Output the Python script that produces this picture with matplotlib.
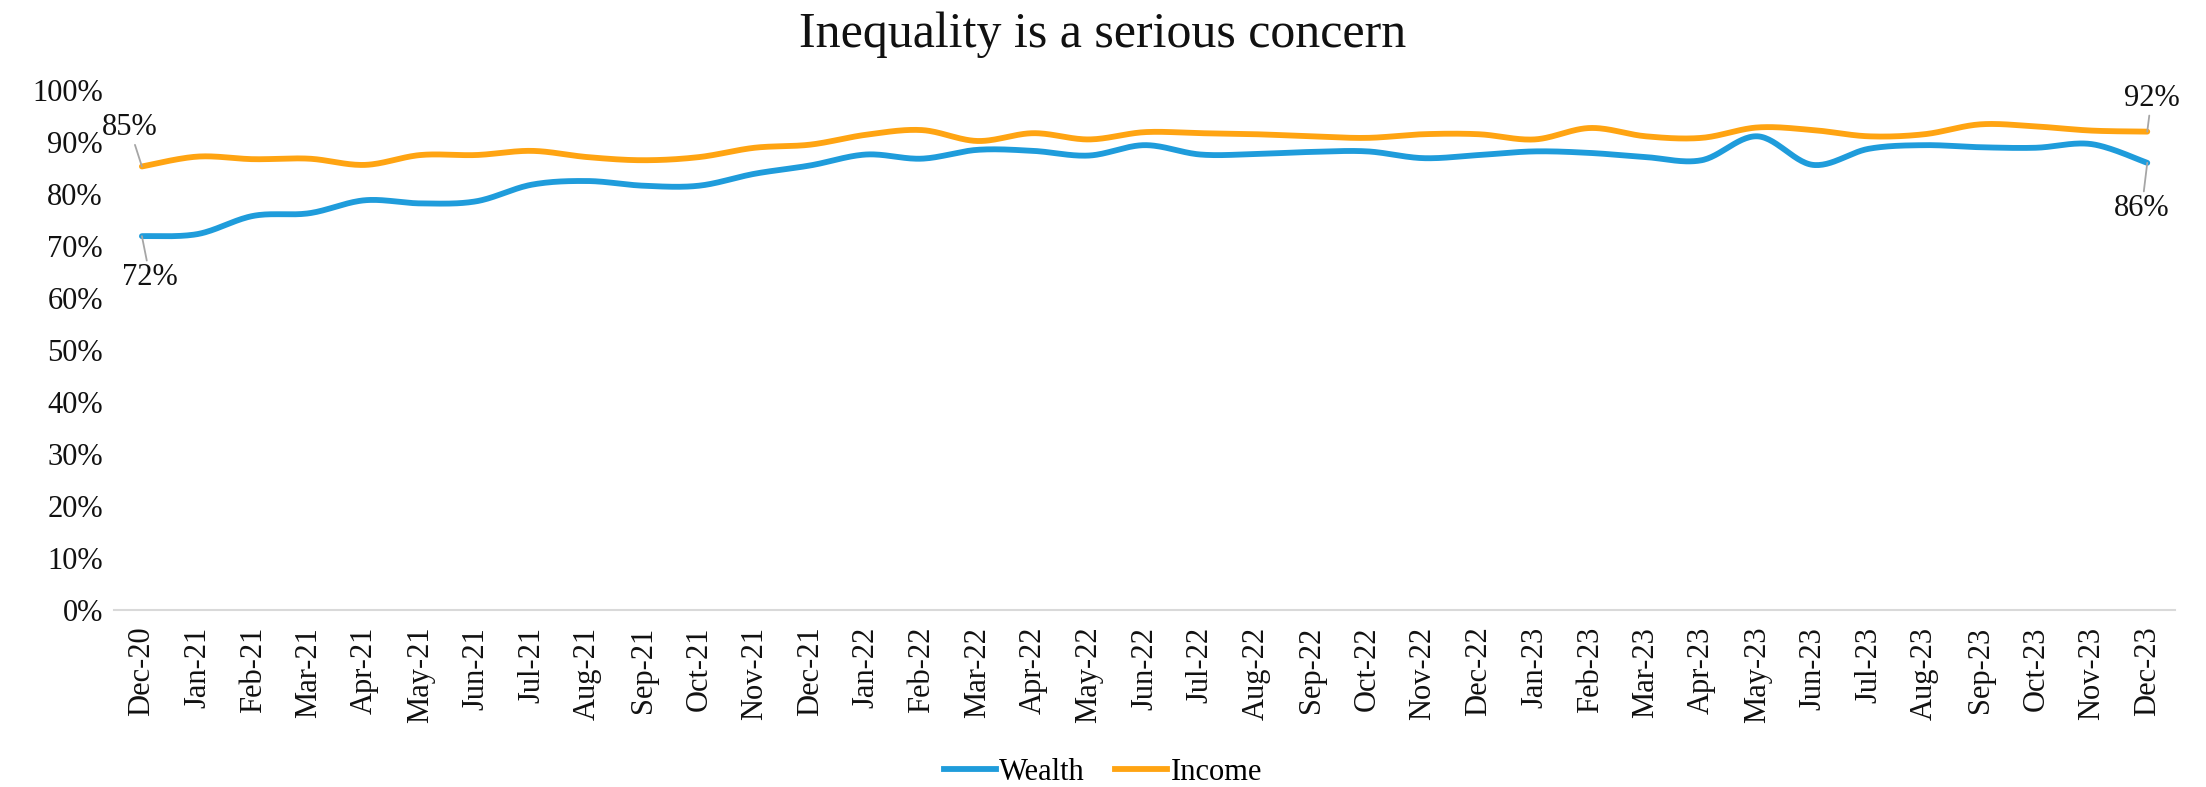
import numpy as np
import matplotlib.pyplot as plt
from matplotlib.lines import Line2D
from matplotlib.ticker import PercentFormatter

plt.rcParams['font.family'] = ['Liberation Serif', 'DejaVu Serif']

months = ['Dec-20', 'Jan-21', 'Feb-21', 'Mar-21', 'Apr-21', 'May-21', 'Jun-21', 'Jul-21',
          'Aug-21', 'Sep-21', 'Oct-21', 'Nov-21', 'Dec-21', 'Jan-22', 'Feb-22', 'Mar-22',
          'Apr-22', 'May-22', 'Jun-22', 'Jul-22', 'Aug-22', 'Sep-22', 'Oct-22', 'Nov-22',
          'Dec-22', 'Jan-23', 'Feb-23', 'Mar-23', 'Apr-23', 'May-23', 'Jun-23', 'Jul-23',
          'Aug-23', 'Sep-23', 'Oct-23', 'Nov-23', 'Dec-23']
wealth = [71.9, 72.3, 75.8, 76.3, 78.8, 78.2, 78.6, 81.8, 82.5, 81.6, 81.6, 83.9, 85.5,
          87.6, 86.8, 88.5, 88.3, 87.4, 89.4, 87.6, 87.7, 88.1, 88.2, 86.9, 87.5, 88.2,
          87.9, 87.1, 86.5, 91.1, 85.6, 88.7, 89.4, 89.0, 88.9, 89.6, 86.0]
income = [85.3, 87.2, 86.7, 86.8, 85.6, 87.5, 87.5, 88.3, 87.1, 86.5, 87.1, 88.9, 89.5,
          91.4, 92.3, 90.2, 91.7, 90.5, 91.9, 91.7, 91.5, 91.1, 90.8, 91.5, 91.5, 90.5,
          92.7, 91.1, 90.8, 92.8, 92.3, 91.1, 91.5, 93.4, 93.0, 92.2, 92.0]

blue = '#1F9CDB'
orange = '#FFA412'


def smooth(y, n=30):
    # Excel-style smoothed line (Catmull-Rom as cubic Bezier)
    y = np.asarray(y, dtype=float)
    x = np.arange(len(y), dtype=float)
    pts = np.column_stack([x, y])
    ext = np.vstack([pts[0], pts, pts[-1]])
    out = []
    t = np.linspace(0, 1, n)[:, None]
    for i in range(len(pts) - 1):
        p0, p1, p2, p3 = ext[i], ext[i + 1], ext[i + 2], ext[i + 3]
        c1 = p1 + (p2 - p0) / 6
        c2 = p2 - (p3 - p1) / 6
        seg = ((1 - t) ** 3) * p1 + 3 * ((1 - t) ** 2) * t * c1 + 3 * (1 - t) * t ** 2 * c2 + t ** 3 * p2
        out.append(seg if i == 0 else seg[1:])
    out = np.vstack(out)
    return out[:, 0], out[:, 1]


fig = plt.figure(figsize=(22.06, 7.87), dpi=100)
ax = fig.add_axes([0.0517, 0.2249, 0.9343, 0.6607])

xw, yw = smooth(wealth)
xi, yi = smooth(income)
ax.plot(xw, yw, color=blue, lw=4.2, solid_capstyle='round')
ax.plot(xi, yi, color=orange, lw=4.2, solid_capstyle='round')

ax.set_xlim(-0.5, len(months) - 0.5)
ax.set_ylim(0, 100)
ax.set_yticks(np.arange(0, 101, 10))
ax.yaxis.set_major_formatter(PercentFormatter(decimals=0))
ax.set_xticks(range(len(months)))
ax.set_xticklabels(months, rotation=90)
ax.tick_params(axis='both', length=0, labelsize=22, colors='#111111')
ax.tick_params(axis='x', pad=12)
ax.tick_params(axis='y', pad=8)
for s in ['top', 'right', 'left']:
    ax.spines[s].set_visible(False)
ax.spines['bottom'].set_color('#d9d9d9')
ax.spines['bottom'].set_linewidth(1.5)

lbl = dict(fontsize=22, color='#111111', ha='center', va='center',
           arrowprops=dict(arrowstyle='-', color='#a6a6a6', lw=1.3, shrinkA=0, shrinkB=0))
last = len(months) - 1
ax.annotate(f'{income[0]:.0f}%', xy=(0, income[0]), xytext=(-9, 28), textcoords='offset points', **lbl)
ax.annotate(f'{wealth[0]:.0f}%', xy=(0, wealth[0]), xytext=(6, -30), textcoords='offset points', **lbl)
ax.annotate(f'{income[-1]:.0f}%', xy=(last, income[-1]), xytext=(3, 24), textcoords='offset points', **lbl)
ax.annotate(f'{wealth[-1]:.0f}%', xy=(last, wealth[-1]), xytext=(-4, -33), textcoords='offset points', **lbl)

fig.suptitle('Inequality is a serious concern', fontsize=36, y=0.985, color='#111111')

handles = [Line2D([], [], color=blue, lw=4.2), Line2D([], [], color=orange, lw=4.2)]
fig.legend(handles, ['Wealth', 'Income'], loc='lower center', bbox_to_anchor=(0.5, -0.035),
           ncol=2, frameon=False, fontsize=22, handlelength=1.7, handletextpad=0.1,
           columnspacing=1.0)

fig.savefig('out.png', dpi=100)
